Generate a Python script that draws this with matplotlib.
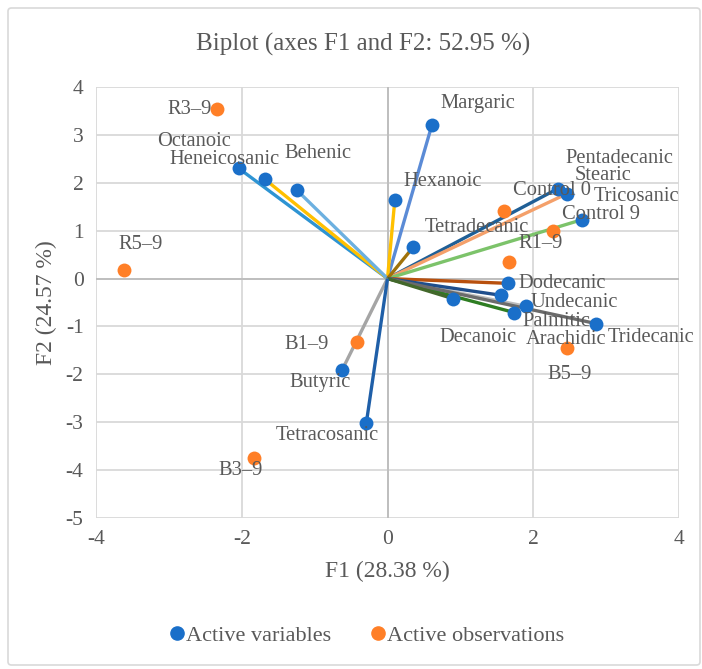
import matplotlib
matplotlib.use("Agg")
import matplotlib.pyplot as plt
from matplotlib.lines import Line2D
from matplotlib.patches import FancyBboxPatch

# ---------------- data ----------------
var_names = ["Margaric", "Hexanoic", "Octanoic", "Heneicosanic", "Behenic",
             "Pentadecanic", "Stearic", "Tricosanic", "Tetradecanic",
             "Dodecanic", "Undecanic", "Palmitic", "Arachidic", "Tridecanic",
             "Decanoic", "Butyric", "Tetracosanic"]
var_f1 = [0.61, 0.10, -2.04, -1.68, -1.24,
          2.34, 2.46, 2.67, 0.35,
          1.65, 1.90, 1.74, 1.56, 2.86,
          0.90, -0.62, -0.29]
var_f2 = [3.21, 1.63, 2.30, 2.07, 1.84,
          1.88, 1.77, 1.23, 0.65,
          -0.10, -0.58, -0.71, -0.35, -0.94,
          -0.42, -1.90, -3.01]

obs_names = ["R3\u20139", "R5\u20139", "Control 0", "Control 9", "R1\u20139",
             "B1\u20139", "B3\u20139", "B5\u20139"]
obs_f1 = [-2.34, -3.61, 1.60, 2.27, 1.67, -0.42, -1.83, 2.46]
obs_f2 = [3.55, 0.17, 1.42, 1.00, 0.35, -1.32, -3.74, -1.44]

x_ticks = [-4, -2, 0, 2, 4]
y_ticks = [-5, -4, -3, -2, -1, 0, 1, 2, 3, 4]

# ---------------- styles / layout ----------------
line_colors = ["#5B8BD6", "#FFC000", "#2E94D3", "#FFC000", "#6CB0E0",
               "#1F5F96", "#F4A06A", "#7CC36A", "#A0720A",
               "#B8500E", "#BDBDBD", "#2E7D22", "#1F4E8C", "#6B6B6B",
               "#43682B", "#A5A5A5", "#1F5FA8"]
# label offsets in pixels (dx, dy up) relative to the point
var_offsets = [(46, 21), (48, 19), (-45, 27), (-41, 20), (21, 37),
               (61, 30), (36, 18), (54, 23), (64, 20),
               (54, 0), (48, 4), (42, -9), (65, -44), (55, -14),
               (25, -39), (-22, -13), (-39, -13)]
obs_offsets = [(-27, -1), (16, 26), (48, 20), (48, 16), (31, 18),
               (-50, -3), (-13, -13), (3, -27)]

blue = "#1A6FC9"
orange = "#FF7F27"
text_gray = "#595959"
font = ["Liberation Serif", "DejaVu Serif"]
plt.rcParams["font.family"] = font
plt.rcParams["axes.unicode_minus"] = False

fig = plt.figure(figsize=(7.02, 6.69), dpi=100)
fig.patches.append(FancyBboxPatch((8 / 702, 4 / 669), 692 / 702, 657 / 669,
                                  boxstyle="round,pad=0,rounding_size=0.005",
                                  transform=fig.transFigure, fill=False,
                                  edgecolor="#D9D9D9", linewidth=1.2))

ax = fig.add_axes([96 / 702, 1 - 518 / 669, (679 - 96) / 702, (518 - 87) / 669])
ax.set_xlim(-4, 4)
ax.set_ylim(-5, 4)
ax.set_xticks(x_ticks)
ax.set_yticks(y_ticks)
ax.grid(True, color="#D9D9D9", linewidth=1.3)
ax.set_axisbelow(True)
for s in ax.spines.values():
    s.set_visible(False)
ax.tick_params(length=0, labelsize=15.5, labelcolor=text_gray, pad=9)
ax.axhline(0, color="#BFBFBF", linewidth=1.4, zorder=1)
ax.axvline(0, color="#BFBFBF", linewidth=1.4, zorder=1)

for x, y, c in zip(var_f1, var_f2, line_colors):
    ax.plot([0, x], [0, y], color=c, linewidth=2.4, solid_capstyle="butt", zorder=2)

ax.scatter(var_f1, var_f2, s=100, color=blue, zorder=4, linewidths=0)
ax.scatter(obs_f1, obs_f2, s=100, color=orange, zorder=4, linewidths=0)

for n, x, y, (dx, dy) in zip(var_names, var_f1, var_f2, var_offsets):
    ax.annotate(n, (x, y), xytext=(dx, dy), textcoords="offset pixels",
                ha="center", va="center", fontsize=14.8, color=text_gray, zorder=5)
for n, x, y, (dx, dy) in zip(obs_names, obs_f1, obs_f2, obs_offsets):
    ax.annotate(n, (x, y), xytext=(dx, dy), textcoords="offset pixels",
                ha="center", va="center", fontsize=14.8, color=text_gray, zorder=5)

fig.text(363 / 702, 1 - 44 / 669, "Biplot (axes F1 and F2: 52.95 %)",
         ha="center", va="center", fontsize=18, color=text_gray)
ax.set_xlabel("F1 (28.38 %)", fontsize=17, color=text_gray, labelpad=8)
ax.set_ylabel("F2 (24.57 %)", fontsize=17, color=text_gray, labelpad=6)

handles = [Line2D([], [], marker="o", linestyle="", markersize=9.5, color=blue),
           Line2D([], [], marker="o", linestyle="", markersize=9.5, color=orange)]
fig.legend(handles, ["Active variables", "Active observations"],
           loc="center", bbox_to_anchor=(365 / 702, 1 - 636 / 669), ncol=2,
           frameon=False, fontsize=16, labelcolor=text_gray,
           handletextpad=-0.1, columnspacing=1.6, handlelength=1.0)

fig.savefig("out.png", dpi=100)
